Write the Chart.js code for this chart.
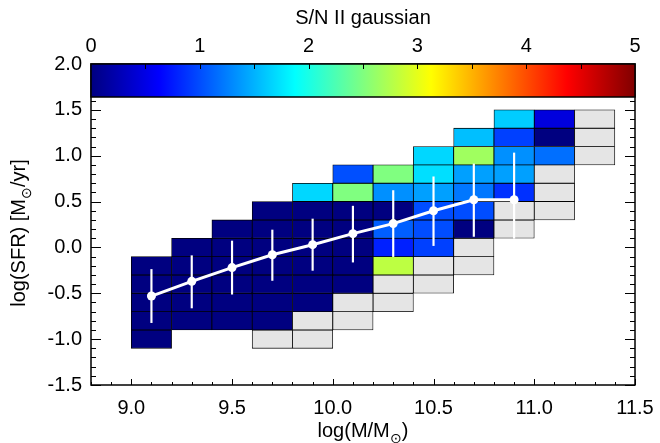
<!DOCTYPE html>
<html>
<head>
<meta charset="utf-8">
<script src="https://cdn.jsdelivr.net/npm/chart.js@4.4.1/dist/chart.umd.min.js"></script>
<style>
  html, body { margin: 0; padding: 0; background: #fff; }
  #wrap { width: 660px; height: 443px; }
</style>
</head>
<body>
<div id="wrap"><canvas id="sn-map" width="660" height="443"></canvas></div>
<script>
// bin centres, 0.2 dex wide in both directions
const massBins = [9.1, 9.3, 9.5, 9.7, 9.9, 10.1, 10.3, 10.5, 10.7, 10.9, 11.1, 11.3];
const sfrBins = [-1.0, -0.8, -0.6, -0.4, -0.2, 0.0, 0.2, 0.4, 0.6, 0.8, 1.0, 1.2, 1.4];
const binHalf = 0.1;

// S/N of the stacked gaussian fit in each bin
// null = empty bin, ND = stack present but no detection
const ND = 'nd';
const _ = null;
const snGrid = [
  // 9.1  9.3  9.5  9.7  9.9  10.1 10.3 10.5 10.7 10.9 11.1 11.3
  [0,    _,   _,   ND,  ND,  _,   _,   _,   _,   _,   _,   _ ],  // -1.0
  [0,    0,   0,   0,   ND,  ND,  _,   _,   _,   _,   _,   _ ],  // -0.8
  [0,    0,   0,   0,   0,   ND,  ND,  _,   _,   _,   _,   _ ],  // -0.6
  [0,    0,   0,   0,   0,   0,   ND,  ND,  _,   _,   _,   _ ],  // -0.4
  [0,    0,   0,   0,   0,   0,   2.8, ND,  ND,  _,   _,   _ ],  // -0.2
  [_,    0,   0,   0,   0,   0,   0.78,0.94,ND,  _,   _,   _ ],  //  0.0
  [_,    _,   0,   0,   0,   0,   1.09,1.0, 0,   ND,  _,   _ ],  //  0.2
  [_,    _,   _,   0,   0,   0,   0,   1.0, 1.0, ND,  ND,  _ ],  //  0.4
  [_,    _,   _,   _,   1.68,2.5, 1.33,1.41,1.21,0.86,ND,  _ ],  //  0.6
  [_,    _,   _,   _,   _,   1.01,2.5, 1.72,1.41,1.41,ND,  _ ],  //  0.8
  [_,    _,   _,   _,   _,   _,   _,   1.68,2.66,1.33,1.17,ND],  //  1.0
  [_,    _,   _,   _,   _,   _,   _,   _,   1.56,0.94,0,   ND],  //  1.2
  [_,    _,   _,   _,   _,   _,   _,   _,   _,   1.63,0.46,ND]   //  1.4
];

// running median of the main sequence with its scatter
const medMass = [9.1, 9.3, 9.5, 9.7, 9.9, 10.1, 10.3, 10.5, 10.7, 10.9];
const medSfr  = [-0.53, -0.37, -0.22, -0.08, 0.03, 0.15, 0.26, 0.40, 0.52, 0.52];
const sfrLow  = [-0.82, -0.66, -0.51, -0.36, -0.25, -0.16, -0.10, 0.02, 0.12, 0.10];
const sfrHigh = [-0.24, -0.09, 0.07, 0.19, 0.31, 0.45, 0.62, 0.77, 0.91, 1.03];

const massTicks = [9.0, 9.5, 10.0, 10.5, 11.0, 11.5];
const sfrTicks = [-1.5, -1.0, -0.5, 0.0, 0.5, 1.0, 1.5, 2.0];
const snTicks = [0, 1, 2, 3, 4, 5];
const snMax = 5;

const FONT = "'Liberation Sans', Arial, Helvetica, sans-serif";
const NO_DET = '#e5e5e5';

function jet(t) {
  t = Math.min(1, Math.max(0, t));
  const c = v => Math.round(255 * Math.min(1, Math.max(0, v)));
  return `rgb(${c(1.5 - Math.abs(4 * t - 3))},${c(1.5 - Math.abs(4 * t - 2))},${c(1.5 - Math.abs(4 * t - 1))})`;
}

const cells = [];
sfrBins.forEach((s, i) => {
  massBins.forEach((m, j) => {
    const v = snGrid[i][j];
    if (v === null) return;
    cells.push({ x: m, y: [s - binHalf, s + binHalf], sn: v });
  });
});

const errBars = medMass.map((m, i) => ({ x: m, y: [sfrLow[i], sfrHigh[i]] }));
const medLine = medMass.map((m, i) => ({ x: m, y: medSfr[i] }));

// inward ticks and the box around the plot
const axisFrame = {
  id: 'axisFrame',
  afterDatasetsDraw(chart) {
    const { ctx, chartArea: a, scales: { x, y } } = chart;
    ctx.save();
    ctx.strokeStyle = '#000';
    ctx.lineWidth = 1.5;
    ctx.strokeRect(a.left, a.top, a.right - a.left, a.bottom - a.top);
    ctx.lineWidth = 1;
    ctx.beginPath();
    for (let k = -15; k <= 20; k++) {
      const py = Math.round(y.getPixelForValue(k / 10)) + 0.5;
      const len = k % 5 === 0 ? 10 : 5;
      ctx.moveTo(a.left, py); ctx.lineTo(a.left + len, py);
      ctx.moveTo(a.right, py); ctx.lineTo(a.right - len, py);
    }
    for (let k = 88; k <= 115; k++) {
      const px = Math.round(x.getPixelForValue(k / 10)) + 0.5;
      const len = k % 5 === 0 ? 6 : 3;
      ctx.moveTo(px, a.bottom); ctx.lineTo(px, a.bottom - len);
    }
    ctx.stroke();
    ctx.restore();
  }
};

// colour bar sitting on the top edge of the plot
const colorbar = {
  id: 'colorbar',
  afterDraw(chart) {
    const { ctx, chartArea: a, scales: { cb } } = chart;
    const x0 = cb.getPixelForValue(0), x1 = cb.getPixelForValue(snMax);
    const top = a.top, h = 33;
    const grad = ctx.createLinearGradient(x0, 0, x1, 0);
    [0, 1 / 8, 3 / 8, 5 / 8, 7 / 8, 1].forEach(t => grad.addColorStop(t, jet(t)));
    ctx.save();
    ctx.fillStyle = grad;
    ctx.fillRect(x0, top, x1 - x0, h);
    ctx.strokeStyle = '#000';
    ctx.lineWidth = 1.5;
    ctx.strokeRect(x0, top, x1 - x0, h);
    ctx.lineWidth = 1;
    ctx.beginPath();
    for (let v = 0.5; v < snMax; v += 0.5) {
      const px = Math.round(cb.getPixelForValue(v)) + 0.5;
      ctx.moveTo(px, top); ctx.lineTo(px, top + 5);
    }
    ctx.stroke();
    ctx.restore();
  }
};

function drawSubscripted(ctx, parts, size) {
  const widths = parts.map(([t, sub]) => {
    ctx.font = `${sub ? size * 0.72 : size}px ${FONT}`;
    return ctx.measureText(t).width;
  });
  let cx = -widths.reduce((s, w) => s + w, 0) / 2;
  parts.forEach(([t, sub], i) => {
    ctx.font = `${sub ? size * 0.72 : size}px ${FONT}`;
    ctx.fillText(t, cx, sub ? size * 0.3 : 0);
    cx += widths[i];
  });
}

const axisTitles = {
  id: 'axisTitles',
  afterDraw(chart) {
    const { ctx, chartArea: a } = chart;
    ctx.save();
    ctx.fillStyle = '#000';
    ctx.textBaseline = 'alphabetic';
    ctx.textAlign = 'left';
    ctx.save();
    ctx.translate((a.left + a.right) / 2, 437);
    drawSubscripted(ctx, [['log(M/M', false], ['\u2299', true], [')', false]], 20);
    ctx.restore();
    ctx.save();
    ctx.translate(25, 233);
    ctx.rotate(-Math.PI / 2);
    drawSubscripted(ctx, [['log(SFR) [M', false], ['\u2299', true], ['/yr]', false]], 20);
    ctx.restore();
    ctx.restore();
  }
};

const tickFont = { family: FONT, size: 20 };

// edge labels may hang past the plot box, so keep the box fixed
const noEdgePad = s => { s.paddingLeft = 0; s.paddingRight = 0; };

new Chart(document.getElementById('sn-map'), {
  type: 'bar',
  data: {
    datasets: [
      {
        type: 'bar',
        data: cells,
        backgroundColor: c => (c.raw && c.raw.sn === ND) ? NO_DET : jet((c.raw ? c.raw.sn : 0) / snMax),
        borderColor: '#000',
        borderWidth: 0.8,
        borderSkipped: false,
        grouped: false,
        barPercentage: 1,
        categoryPercentage: 1,
        order: 3
      },
      {
        type: 'bar',
        data: errBars,
        backgroundColor: '#fff',
        borderWidth: 0,
        barThickness: 1.5,
        grouped: false,
        order: 2
      },
      {
        type: 'line',
        data: medLine,
        borderColor: '#fff',
        borderWidth: 3,
        pointRadius: 4.5,
        pointBackgroundColor: '#fff',
        pointBorderWidth: 0,
        order: 1
      }
    ]
  },
  options: {
    responsive: false,
    devicePixelRatio: 1,
    animation: false,
    events: [],
    layout: { padding: { left: 0, right: 25, top: 0, bottom: 0 } },
    plugins: { legend: { display: false }, tooltip: { enabled: false } },
    scales: {
      x: {
        type: 'linear',
        position: 'bottom',
        offset: false,
        min: 8.8,
        max: 11.5,
        afterBuildTicks: s => { s.ticks = massTicks.map(v => ({ value: v })); },
        afterFit: s => { s.height = 58; noEdgePad(s); },
        ticks: { callback: v => v.toFixed(1), font: tickFont, color: '#000', padding: 11, maxRotation: 0, autoSkip: false },
        grid: { display: false, drawTicks: false },
        border: { display: false }
      },
      y: {
        type: 'linear',
        min: -1.5,
        max: 2.0,
        afterBuildTicks: s => { s.ticks = sfrTicks.map(v => ({ value: v })); },
        afterFit: s => { s.width = 91; },
        ticks: { callback: v => v.toFixed(1), font: tickFont, color: '#000', padding: 9 },
        grid: { display: false, drawTicks: false },
        border: { display: false }
      },
      cb: {
        type: 'linear',
        axis: 'x',
        position: 'top',
        offset: false,
        min: 0,
        max: snMax,
        afterBuildTicks: s => { s.ticks = snTicks.map(v => ({ value: v })); },
        afterFit: s => { s.height = 64; noEdgePad(s); },
        ticks: { callback: v => String(v), font: tickFont, color: '#000', padding: 6, maxRotation: 0, autoSkip: false },
        title: { display: true, text: 'S/N II gaussian', font: tickFont, color: '#000', padding: { top: 6, bottom: 0 } },
        grid: { display: false, drawTicks: false },
        border: { display: false }
      }
    }
  },
  plugins: [axisFrame, colorbar, axisTitles]
});
</script>
</body>
</html>
